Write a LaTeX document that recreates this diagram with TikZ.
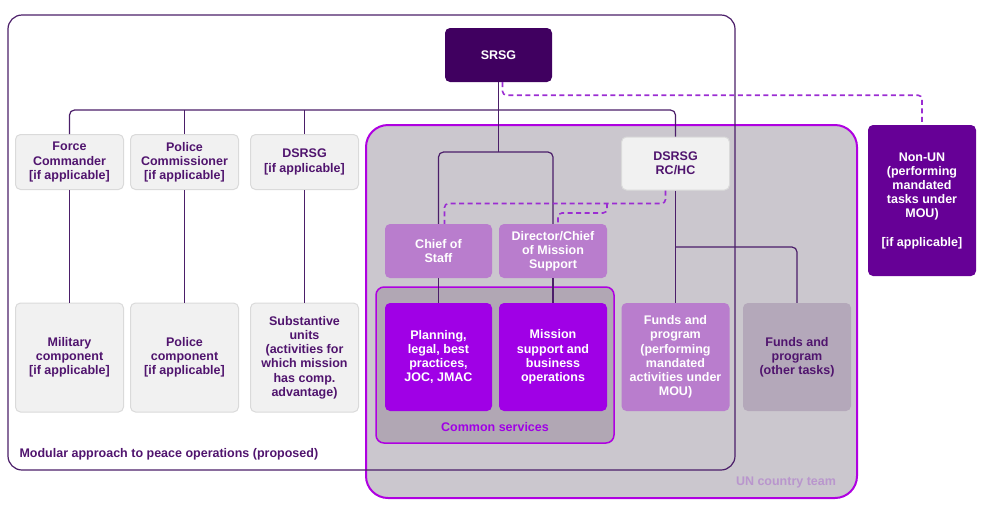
\documentclass[tikz,border=0pt]{standalone}
\usepackage{fontspec}
\setmainfont{Liberation Sans}
\usetikzlibrary{positioning,calc}

\definecolor{srsgcol}{RGB}{64,0,96}
\definecolor{nonuncol}{RGB}{102,0,150}
\definecolor{brightcol}{RGB}{160,0,230}
\definecolor{lightcol}{RGB}{185,125,205}
\definecolor{boxgrey}{RGB}{241,241,241}
\definecolor{boxline}{RGB}{218,218,218}
\definecolor{unfill}{RGB}{203,199,206}
\definecolor{unline}{RGB}{175,0,225}
\definecolor{commonfill}{RGB}{177,167,180}
\definecolor{otherfill}{RGB}{180,168,186}
\definecolor{linkcol}{RGB}{75,30,105}
\definecolor{inkdark}{RGB}{80,20,110}
\definecolor{dashcol}{RGB}{155,45,210}
\definecolor{untext}{RGB}{185,150,205}

\begin{document}
\begin{tikzpicture}[x=1pt,y=-1pt,
  every node/.style={font=\bfseries\fontsize{12.5}{14.2}\selectfont, align=center},
  box/.style={rounded corners=5pt, inner sep=2pt, minimum width=108pt, minimum height=54pt},
  greybox/.style={box, fill=boxgrey, draw=boxline, line width=1pt, text=inkdark},
  darkbox/.style={box, fill=srsgcol, text=white},
  nonunbox/.style={box, fill=nonuncol, text=white},
  brightbox/.style={box, fill=brightcol, text=white},
  lightbox/.style={box, fill=lightcol, text=white},
  otherbox/.style={box, fill=otherfill, text=inkdark},
  link/.style={draw=linkcol, line width=1.2pt, rounded corners=5pt},
  dashlink/.style={draw=dashcol, line width=1.6pt, dash pattern=on 5pt off 3.5pt, rounded corners=4pt}
]
\useasboundingbox (0,0) rectangle (990,515);

\draw[fill=unfill, draw=unline, line width=2pt, rounded corners=22pt] (366,125) rectangle (857,498);
\draw[fill=commonfill, draw=unline, line width=1.5pt, rounded corners=8pt] (376,287) rectangle (614,443);
\draw[draw=linkcol, line width=1.2pt, rounded corners=14pt] (8,15) rectangle (735,470);

\node[darkbox, minimum width=107pt] (srsg) at (498.5,55) {SRSG};

\node[greybox, minimum height=55pt] (force) at (69.5,162) {Force\\Commander\\{[if applicable]}};
\node[greybox, minimum height=55pt] (commissioner) at (184.5,162) {Police\\Commissioner\\{[if applicable]}};
\node[greybox, minimum height=55pt] (dsrsg) at (304.5,162) {DSRSG\\{[if applicable]}};
\node[greybox, minimum height=53pt] (rchc) at (675.5,163.5) {DSRSG\\RC/HC};

\node[greybox, minimum height=109pt] (military) at (69.5,357.5) {Military\\component\\{[if applicable]}};
\node[greybox, minimum height=109pt] (policecomp) at (184.5,357.5) {Police\\component\\{[if applicable]}};
\node[greybox, minimum height=109pt] (substantive) at (304.5,357.5) {Substantive\\units\\(activities for\\which mission\\has comp.\\advantage)};

\node[lightbox, minimum width=107pt] (chief) at (438.5,251) {Chief of\\Staff};
\node[lightbox] (director) at (553,251) {Director/Chief\\of Mission\\Support};

\node[brightbox, minimum width=107pt, minimum height=108pt] (planning) at (438.5,357) {Planning,\\legal, best\\practices,\\JOC, JMAC};
\node[brightbox, minimum height=108pt] (mission) at (553,357) {Mission\\support and\\business\\operations};
\node[lightbox, minimum height=108pt] (fundsmou) at (675.5,357) {Funds and\\program\\(performing\\mandated\\activities under\\MOU)};
\node[otherbox, minimum height=108pt] (fundsother) at (797,357) {Funds and\\program\\(other tasks)};

\node[nonunbox, minimum height=151pt] (nonun) at (922,200.5) {Non-UN\\(performing\\mandated\\tasks under\\MOU)\\[14pt]{[if applicable]}};

\node[text=brightcol] (common) at (495,427) {Common services};
\node[text=untext] (unct) at (786,482) {UN country team};
\node[anchor=west, text=inkdark] (modular) at (16,454) {Modular approach to peace operations (proposed)};

\coordinate (hub) at (498.5,110);
\coordinate (split) at (498.5,152);
\coordinate (branch) at (675.5,247);

\draw[link] (force.north) |- (hub) -| (rchc.north);
\draw[link] (commissioner.north) -- (commissioner.north |- hub);
\draw[link] (dsrsg.north) -- (dsrsg.north |- hub);
\draw[link] (srsg) -- (split);
\draw[link] (chief.north) |- (split) -| (director.north);

\draw[link] (force) -- (military);
\draw[link] (commissioner) -- (policecomp);
\draw[link] (dsrsg) -- (substantive);
\draw[link] (chief) -- (planning);
\draw[link] (director) -- (mission);
\draw[link] (rchc) -- (fundsmou);
\draw[link] (branch) -| (fundsother.north);

\draw[dashlink] ([xshift=4pt]srsg.south) -- ++(0,13) -| (nonun.north);
\draw[dashlink] ([xshift=-10pt]rchc.south) -- ++(0,13) -| ([xshift=6pt]chief.north);
\draw[dashlink] (607,203) -- ++(0,10) -| ([xshift=5pt]director.north);

\end{tikzpicture}
\end{document}
